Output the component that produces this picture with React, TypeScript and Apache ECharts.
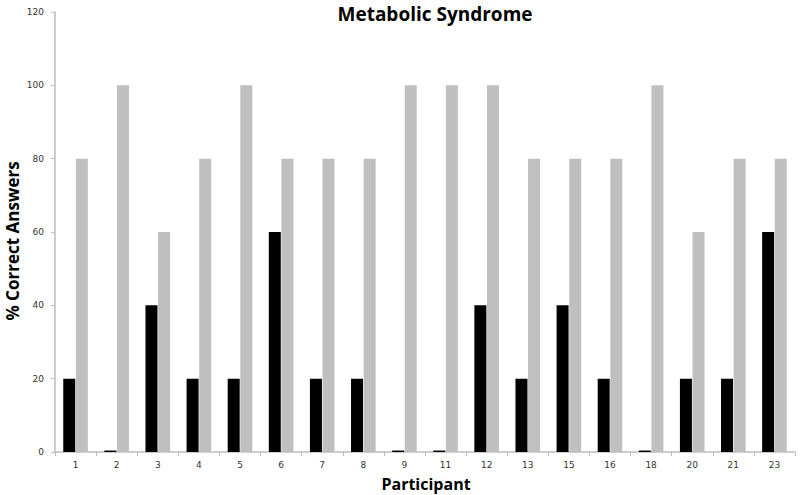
import React, { useEffect, useRef } from "react";
import * as echarts from "echarts";

const participants = ["1", "2", "3", "4", "5", "6", "7", "8", "9", "11", "12", "13", "15", "16", "18", "20", "21", "23"];
const blackValues = [20, 0.4, 40, 20, 20, 60, 20, 20, 0.4, 0.4, 40, 20, 40, 20, 0.4, 20, 20, 60];
const grayValues = [80, 100, 60, 80, 100, 80, 80, 80, 100, 100, 100, 80, 80, 80, 100, 60, 80, 80];
const yTicks = { min: 0, max: 120, interval: 20 };

export default function App() {
  const ref = useRef<HTMLDivElement>(null);
  useEffect(() => {
    if (!ref.current) return;
    const chart = echarts.init(ref.current, undefined, { renderer: "svg" });
    const font = "'Open Sans', 'Liberation Sans', sans-serif";
    const tickFont = "'DejaVu Sans', Verdana, sans-serif";
    chart.setOption({
      animation: false,
      backgroundColor: "#ffffff",
      title: {
        text: "Metabolic Syndrome",
        left: 430,
        textAlign: "center",
        top: -1,
        textStyle: { fontFamily: font, fontWeight: "bold", fontSize: 19, color: "#000" },
      },
      grid: { left: 55, right: 5, top: 12, bottom: 43, outerBoundsMode: "none" },
      graphic: [
        {
          type: "text",
          x: 12,
          y: 241,
          rotation: Math.PI / 2,
          style: {
            text: "% Correct Answers",
            fontFamily: font,
            fontWeight: "bold",
            fontSize: 17,
            fill: "#000",
            align: "center",
            verticalAlign: "middle",
          },
        },
        {
          type: "text",
          x: 426,
          y: 484,
          style: {
            text: "Participant",
            fontFamily: font,
            fontWeight: "bold",
            fontSize: 16,
            fill: "#000",
            align: "center",
            verticalAlign: "middle",
          },
        },
      ],
      xAxis: {
        type: "category",
        data: participants,
        axisLine: { lineStyle: { color: "#bdbdbd", width: 1.5 } },
        axisTick: { show: true, length: 4, lineStyle: { color: "#bdbdbd" } },
        axisLabel: { fontFamily: tickFont, fontSize: 9, color: "#333", margin: 8 },
      },
      yAxis: {
        type: "value",
        min: yTicks.min,
        max: yTicks.max,
        interval: yTicks.interval,
        axisLine: { show: true, lineStyle: { color: "#bdbdbd", width: 1.5 } },
        axisTick: { show: true, length: 4, lineStyle: { color: "#bdbdbd" } },
        axisLabel: { fontFamily: tickFont, fontSize: 9, color: "#333", margin: 11 },
        splitLine: { show: false },
      },
      series: [
        {
          type: "bar",
          data: blackValues,
          itemStyle: { color: "#000000" },
          barWidth: 12,
          barGap: "5%",
        },
        {
          type: "bar",
          data: grayValues,
          itemStyle: { color: "#bfbfbf" },
          barWidth: 12,
          barGap: "5%",
        },
      ],
    });
    return () => chart.dispose();
  }, []);
  return (
    <div
      ref={ref}
      style={{ position: "fixed", left: 0, top: 0, width: 800, height: 495 }}
    />
  );
}
